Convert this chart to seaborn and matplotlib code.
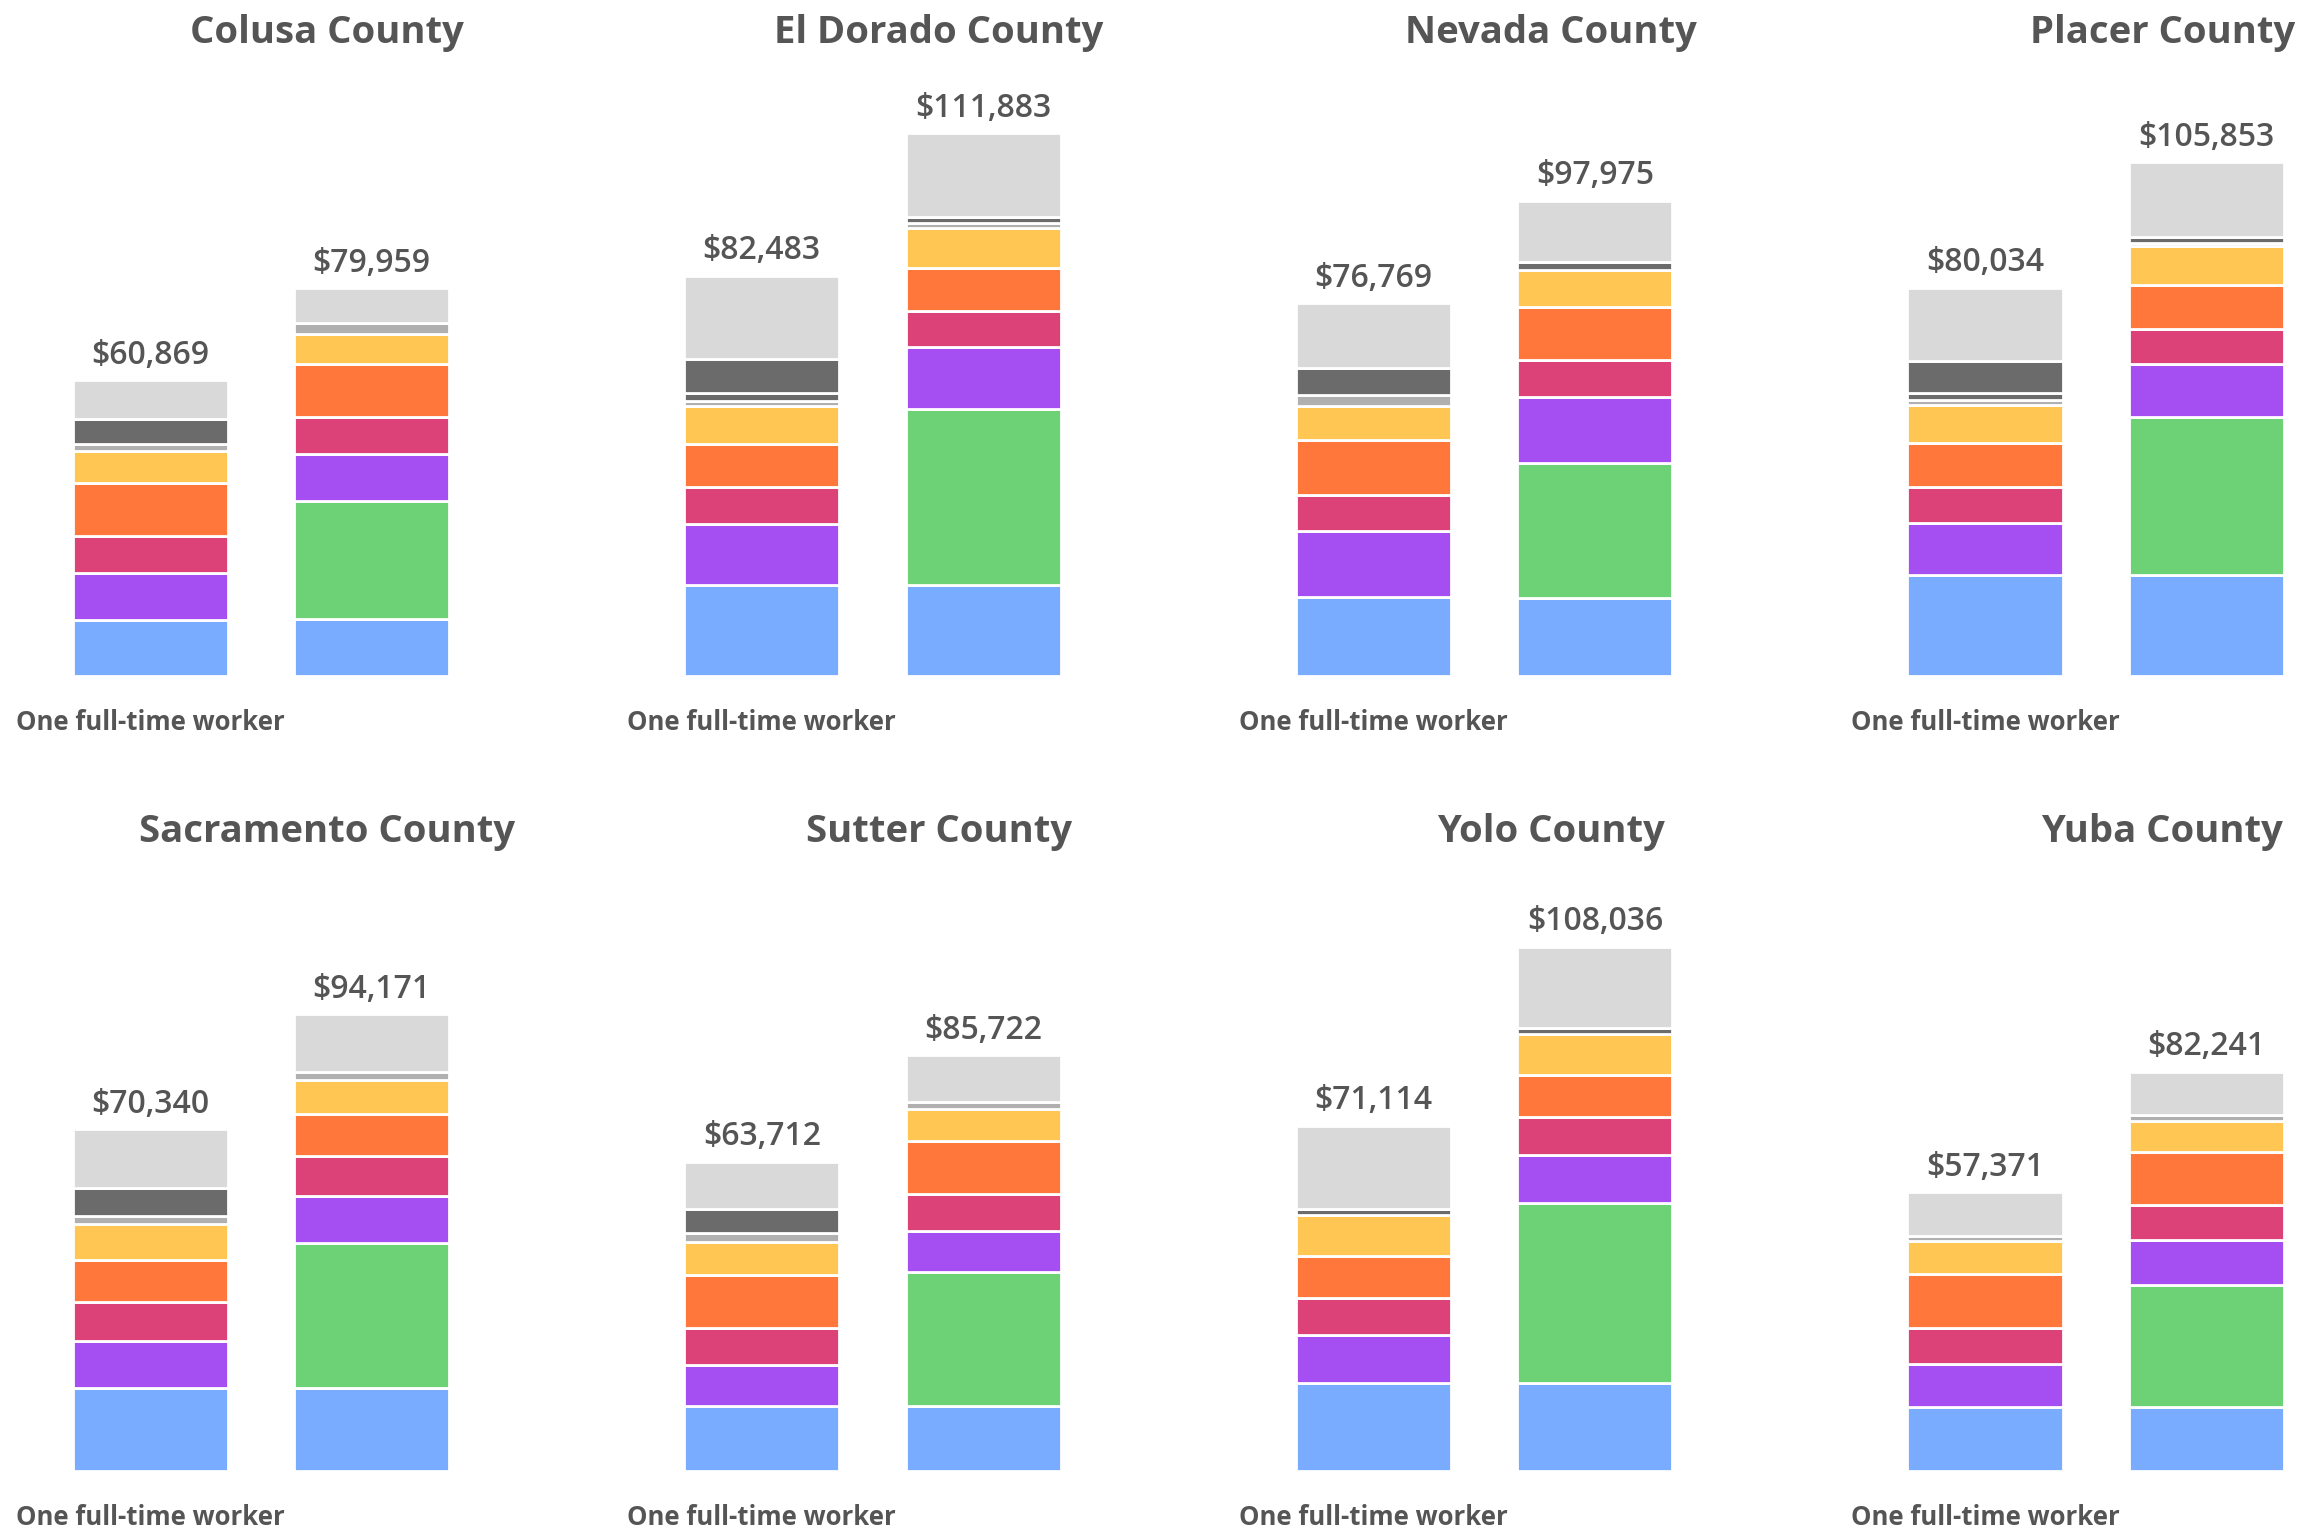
import matplotlib
matplotlib.use("Agg")
import matplotlib.pyplot as plt
from matplotlib import transforms
import numpy as np
import pandas as pd
import seaborn as sns

# ---- data (annual cost in dollars; each pair = [one worker, family]) ----
counties = ["Colusa County", "El Dorado County", "Nevada County", "Placer County",
            "Sacramento County", "Sutter County", "Yolo County", "Yuba County"]
households = ["One full-time worker", "Two-worker family"]

housing        = [[11500, 11700], [18700, 18700], [16200, 16000], [20700, 20700],
                  [17000, 17000], [13300, 13300], [18000, 18000], [13100, 13100]]
child_care     = [[0, 24300], [0, 36300], [0, 27800], [0, 32600],
                  [0, 30000], [0, 27700], [0, 37200], [0, 25100]]
food           = [[9700, 9800], [12500, 12700], [13600, 13700], [10800, 11000],
                  [9700, 9600], [8400, 8400], [10000, 9900], [8900, 9400]]
transportation = [[7600, 7500], [7800, 7500], [7500, 7500], [7500, 7200],
                  [8100, 8200], [7600, 7700], [7600, 7800], [7500, 7200]]
health_care    = [[11000, 10900], [8800, 8800], [11200, 11000], [9000, 9000],
                  [8700, 8700], [11000, 10900], [8700, 8700], [11100, 10800]]
other          = [[6500, 6300], [7900, 8300], [7200, 7700], [7800, 8000],
                  [7400, 7100], [6900, 6600], [8300, 8400], [6700, 6500]]
misc           = [[1500, 2200], [1000, 1000], [2200, 0], [1000, 800],
                  [1500, 1500], [1700, 1500], [0, 0], [1000, 1200]]
tax_small      = [[0, 0], [1600, 1200], [0, 1500], [1400, 1200],
                  [0, 0], [0, 0], [1300, 1300], [0, 0]]
taxes          = [[5100, 0], [6900, 0], [5600, 0], [6600, 0],
                  [5900, 0], [5100, 0], [0, 0], [0, 0]]
savings        = [[7969, 7259], [17283, 17383], [13269, 12775], [15234, 15353],
                  [12040, 12071], [9712, 9622], [17214, 16736], [9071, 8941]]

segments = [housing, child_care, food, transportation, health_care,
            other, misc, tax_small, taxes, savings]
seg_colors = ["#79acff", "#6dd276", "#a54ef2", "#dc4178", "#ff773b",
              "#ffc653", "#b0b0b0", "#6b6b6b", "#6b6b6b", "#d9d9d9"]

# ---- layout ----
W, H, DPI = 2308, 1532, 100
sns.set_theme(style="white")
plt.rcParams["font.family"] = ["Open Sans", "DejaVu Sans"]
TEXT = "#555555"

fig = plt.figure(figsize=(W / DPI, H / DPI), dpi=DPI)

unit = 221.5            # px per category step
px_per_dollar = 0.00485
ymax = 127000
ax_h = ymax * px_per_dollar
xlo, xhi = -0.55, 1.45
first_center = 150.2
col_stride = 611.6
baselines = [675.7, 1470.6]
title_y = [1.044, 1.036]

for ci, county in enumerate(counties):
    r, c = divmod(ci, 4)
    left_px = first_center + col_stride * c + xlo * unit
    width_px = (xhi - xlo) * unit
    base = baselines[r]
    ax = fig.add_axes([left_px / W, (H - base) / H, width_px / W, ax_h / H])

    bottoms = np.zeros(2)
    for seg, color in zip(segments, seg_colors):
        vals = np.array(seg[ci], dtype=float)
        keep = vals > 0
        if keep.any():
            d = pd.DataFrame({
                "household": [h for h, k in zip(households, keep) if k],
                "value": vals[keep],
            })
            sns.barplot(data=d, x="household", y="value", order=households,
                        color=color, saturation=1, width=0.7, errorbar=None,
                        bottom=bottoms[keep], edgecolor="white", linewidth=2.0,
                        ax=ax)
        bottoms += vals

    for i, total in enumerate(bottoms):
        ax.annotate(f"${total:,.0f}", xy=(i, total), xytext=(0, 6),
                    textcoords="offset points", ha="center", va="bottom",
                    fontsize=23, fontweight="semibold", color=TEXT)

    ax.set_xlim(xlo, xhi)
    ax.set_ylim(0, ymax)
    ax.set_yticks([])
    ax.set_ylabel("")
    ax.set_xlabel("")
    ax.set_xticks([0])
    ax.set_xticklabels([households[0]], fontsize=18.5, fontweight="bold", color=TEXT)
    ax.tick_params(axis="x", length=0, pad=24)
    for s in ax.spines.values():
        s.set_visible(False)

    trans = transforms.blended_transform_factory(ax.transData, ax.transAxes)
    ax.text(0.8, title_y[r], county, transform=trans, ha="center", va="center",
            fontsize=27.5, fontweight="bold", color=TEXT)

fig.savefig("out.png", dpi=DPI, facecolor="white")
